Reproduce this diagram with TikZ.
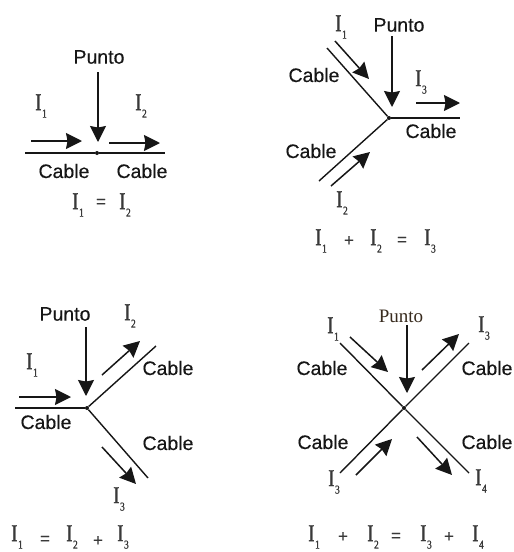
\documentclass[tikz,border=0pt]{standalone}
\usepackage{fontspec}
\setmainfont{Liberation Sans}
\newfontfamily\sansc[RawFeature={embolden=0.35}]{Liberation Sans}
\newfontfamily\serifc[FakeStretch=0.78,RawFeature={embolden=1.2}]{Liberation Serif}
\newfontfamily\serifp{Liberation Serif}
\usetikzlibrary{arrows.meta}
\definecolor{ink}{HTML}{161616}
\newcommand{\Ic}[1]{{\serifc\fontsize{24}{24}\selectfont I\kern0.6pt\raisebox{-7.5pt}{\fontsize{12}{12}\selectfont #1}}}
\tikzset{
  x=1pt,y=-1pt,
  lbl/.style={inner sep=0pt,text=ink,font=\sansc\fontsize{19.5}{21}\selectfont},
  cur/.style={inner sep=0pt,text=ink!85},
  sym/.style={inner sep=0pt,text=ink!85,font=\sansc\fontsize{17}{18}\selectfont},
  pt/.style={circle,fill=ink,inner sep=0pt,minimum size=4pt},
  wire/.style={draw=ink,line width=1.4pt},
  flow/.style={draw=ink,line width=1.5pt,-{Stealth[length=16pt,width=16pt,inset=1.5pt]}}
}
\begin{document}
\begin{tikzpicture}
\useasboundingbox (0,0) rectangle (514,552);
\clip (0,0) rectangle (514,552);
% Panel 1
\node[pt] (c1) at (97,153) {};
\coordinate (a1l) at (25,153); \coordinate (a1r) at (165,153);
\draw[wire] (a1l) -- (c1) -- (a1r);
\node[lbl] (p1) at (99,57) {Punto};
\coordinate (a1pe) at (98,142);
\coordinate (a1ps) at (98,72);
\draw[flow] (a1ps) -- (a1pe);
\coordinate (a1s) at (31,141); \coordinate (a1e) at (82,141);
\coordinate (a2s) at (109,143); \coordinate (a2e) at (160,143);
\draw[flow] (a1s) -- (a1e);
\draw[flow] (a2s) -- (a2e);
\node[cur] (i11) at (41,106) {\Ic{1}};
\node[cur] (i12) at (141,106) {\Ic{2}};
\node[lbl] (c11) at (64,171) {Cable};
\node[lbl] (c12) at (142,171) {Cable};
\node[cur] (e11) at (78,205) {\Ic{1}};
\node[sym] (e12) at (101,203) {=};
\node[cur] (e13) at (125,205) {\Ic{2}};
% Panel 2
\node[pt] (c2) at (389,118) {};
\coordinate (b1) at (327,48); \coordinate (b2) at (319,181); \coordinate (b3) at (460,118);
\draw[wire] (b1) -- (c2); \draw[wire] (b2) -- (c2); \draw[wire] (c2) -- (b3);
\node[lbl] (p2) at (399,25) {Punto};
\coordinate (b4) at (392,36); \coordinate (b5) at (392,107);
\draw[flow] (b4) -- (b5);
\coordinate (b6) at (335,41); \coordinate (b7) at (369,79);
\draw[flow] (b6) -- (b7);
\coordinate (b8) at (416,103); \coordinate (b9) at (460,103);
\draw[flow] (b8) -- (b9);
\coordinate (b10) at (331,186); \coordinate (b11) at (370,152);
\draw[flow] (b10) -- (b11);
\node[cur] (i21) at (341,27) {\Ic{1}};
\node[cur] (i23) at (421,82) {\Ic{3}};
\node[cur] (i22) at (342,203) {\Ic{2}};
\node[lbl] (c21) at (314,75) {Cable};
\node[lbl] (c22) at (311,151) {Cable};
\node[lbl] (c23) at (431,131) {Cable};
\node[cur] (e21) at (321,241) {\Ic{1}};
\node[sym] (e22) at (349,241) {+};
\node[cur] (e23) at (376,241) {\Ic{2}};
\node[sym] (e24) at (402,241) {=};
\node[cur] (e25) at (430,241) {\Ic{3}};
% Panel 3
\node[pt] (c3) at (87,408) {};
\coordinate (d1) at (15,408); \coordinate (d2) at (156,346); \coordinate (d3) at (148,478);
\draw[wire] (d1) -- (c3); \draw[wire] (c3) -- (d2); \draw[wire] (c3) -- (d3);
\node[lbl] (p3) at (65,314) {Punto};
\coordinate (d4) at (86,327); \coordinate (d5) at (86,396);
\draw[flow] (d4) -- (d5);
\coordinate (d6) at (19,397); \coordinate (d7) at (71,397);
\draw[flow] (d6) -- (d7);
\coordinate (d8) at (102,375); \coordinate (d9) at (140,341);
\draw[flow] (d8) -- (d9);
\coordinate (d10) at (102,447); \coordinate (d11) at (136,484);
\draw[flow] (d10) -- (d11);
\node[cur] (i32) at (130,316) {\Ic{2}};
\node[cur] (i31) at (32,365) {\Ic{1}};
\node[cur] (i33) at (119,499) {\Ic{3}};
\node[lbl] (c31) at (168,368) {Cable};
\node[lbl] (c32) at (46,422) {Cable};
\node[lbl] (c33) at (168,443) {Cable};
\node[cur] (e31) at (17,537) {\Ic{1}};
\node[sym] (e32) at (45,540) {=};
\node[cur] (e33) at (72,537) {\Ic{2}};
\node[sym] (e34) at (98,541) {+};
\node[cur] (e35) at (123,537) {\Ic{3}};
% Panel 4
\node[pt] (c4) at (404,408) {};
\coordinate (f1) at (340,343); \coordinate (f2) at (469,473);
\coordinate (f3) at (340,473); \coordinate (f4) at (469,343);
\draw[wire] (f1) -- (c4) -- (f2);
\draw[wire] (f3) -- (c4) -- (f4);
\node[inner sep=0pt,text=ink!80!brown,font=\serifp\fontsize{19}{20}\selectfont] (p4) at (401,316) {Punto};
\coordinate (f5) at (407,325); \coordinate (f6) at (407,393);
\draw[flow] (f5) -- (f6);
\coordinate (f7) at (350,337); \coordinate (f8) at (388,372);
\draw[flow] (f7) -- (f8);
\coordinate (f9) at (422,370); \coordinate (f10) at (459,334);
\draw[flow] (f9) -- (f10);
\coordinate (f11) at (356,475); \coordinate (f12) at (392,439);
\draw[flow] (f11) -- (f12);
\coordinate (f13) at (417,437); \coordinate (f14) at (452,475);
\draw[flow] (f13) -- (f14);
\node[cur] (i41) at (333,329) {\Ic{1}};
\node[cur] (i43) at (484,328) {\Ic{3}};
\node[cur] (i45) at (334,482) {\Ic{3}};
\node[cur] (i44) at (481,481) {\Ic{4}};
\node[lbl] (c41) at (322,368) {Cable};
\node[lbl] (c42) at (487,368) {Cable};
\node[lbl] (c43) at (323,442) {Cable};
\node[lbl] (c44) at (487,442) {Cable};
\node[cur] (e41) at (314,537) {\Ic{1}};
\node[sym] (e42) at (343,537) {+};
\node[cur] (e43) at (373,537) {\Ic{2}};
\node[sym] (e44) at (396,537) {=};
\node[cur] (e45) at (426,537) {\Ic{3}};
\node[sym] (e46) at (449,537) {+};
\node[cur] (e47) at (478,537) {\Ic{4}};
\end{tikzpicture}
\end{document}
